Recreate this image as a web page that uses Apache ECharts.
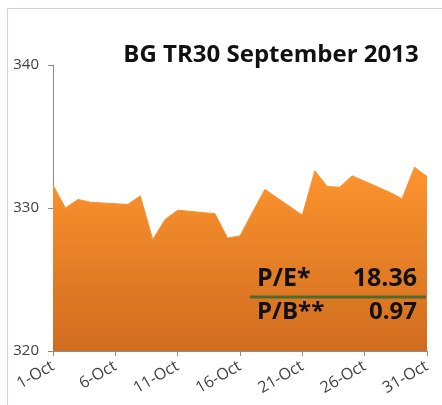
<!DOCTYPE html>
<html>
<head>
    <meta charset="utf-8">
    <title>BG TR30</title>
    <script src="https://cdn.jsdelivr.net/npm/echarts@6/dist/echarts.min.js"></script>
    <style>
        html, body { margin: 0; padding: 0; background: #fff; }
    </style>
</head>
<body>
<div id="main" style="width: 442px;height:405px;"></div>

<script type="text/javascript">
    // trading days in October 2013 and index closes
    var tradeDays = [1, 2, 3, 4, 7, 8, 9, 10, 11, 14, 15, 16, 17, 18, 21, 22, 23, 24, 25, 28, 29, 30, 31];
    var closes = [331.6, 330.0, 330.6, 330.4, 330.25, 330.85, 327.8, 329.2, 329.85, 329.6, 327.9, 328.05, 329.7, 331.3,
                  329.5, 332.6, 331.5, 331.45, 332.25, 331.1, 330.65, 332.85, 332.2];
    var dayTicks = [1, 6, 11, 16, 21, 26, 31];
    var ratios = [['P/E*', '18.36'], ['P/B**', '0.97']];

    var myChart = echarts.init(document.getElementById('main'));

    // x is days since 1-Oct so ticks start at 0
    var seriesData = tradeDays.map(function (d, i) {
        return [d - 1, closes[i]];
    });

    myChart.setOption({
        animation: false,
        title: {
            text: 'BG TR30 September 2013',
            left: 266,
            top: 38,
            textAlign: 'center',
            textStyle: {
                fontFamily: 'Open Sans',
                fontWeight: 'bold',
                fontSize: 24,
                color: '#111'
            }
        },
        grid: {
            left: 53,
            right: 15,
            top: 65,
            bottom: 54
        },
        xAxis: {
            type: 'value',
            min: 0,
            max: 30,
            interval: 5,
            splitLine: { show: false },
            axisLine: { show: true, lineStyle: { color: '#8c8c8c' } },
            axisTick: { show: true, length: 5, lineStyle: { color: '#8c8c8c' } },
            axisLabel: {
                rotate: 30,
                margin: 14,
                color: '#404040',
                fontFamily: 'Open Sans',
                fontSize: 16,
                formatter: function (v) {
                    return dayTicks.indexOf(v + 1) >= 0 ? (v + 1) + '-Oct' : '';
                }
            }
        },
        yAxis: {
            type: 'value',
            min: 320,
            max: 340,
            interval: 10,
            splitLine: { show: false },
            axisLine: { show: true, lineStyle: { color: '#8c8c8c' } },
            axisTick: { show: true, length: 5, lineStyle: { color: '#8c8c8c' } },
            axisLabel: {
                margin: 14,
                color: '#404040',
                fontFamily: 'Open Sans',
                fontSize: 15
            }
        },
        series: [{
            type: 'line',
            data: seriesData,
            symbol: 'none',
            lineStyle: { width: 1, color: '#f5922f' },
            areaStyle: {
                opacity: 1,
                color: new echarts.graphic.LinearGradient(0, 0, 0, 1, [
                    { offset: 0, color: '#fd942e' },
                    { offset: 1, color: '#d06c1f' }
                ])
            },
            z: 2
        }],
        graphic: [
            {
                type: 'rect',
                shape: { x: 7.5, y: 8.5, width: 460, height: 420 },
                style: { fill: 'none', stroke: '#c9d6e3', lineWidth: 1 },
                silent: true
            },
            {
                type: 'line',
                shape: { x1: 250, y1: 297, x2: 426, y2: 297 },
                style: { stroke: '#4f6a2a', lineWidth: 3 },
                z: 10
            },
            {
                type: 'text',
                x: 257, y: 291,
                style: { text: ratios[0][0], fill: '#111', font: 'bold 25px "Open Sans"', verticalAlign: 'bottom' },
                z: 10
            },
            {
                type: 'text',
                x: 417, y: 291,
                style: { text: ratios[0][1], fill: '#111', font: 'bold 25px "Open Sans"', align: 'right', verticalAlign: 'bottom' },
                z: 10
            },
            {
                type: 'text',
                x: 257, y: 324,
                style: { text: ratios[1][0], fill: '#111', font: 'bold 24px "Open Sans"', verticalAlign: 'bottom' },
                z: 10
            },
            {
                type: 'text',
                x: 417, y: 324,
                style: { text: ratios[1][1], fill: '#111', font: 'bold 24px "Open Sans"', align: 'right', verticalAlign: 'bottom' },
                z: 10
            }
        ]
    });
</script>
</body>
</html>
